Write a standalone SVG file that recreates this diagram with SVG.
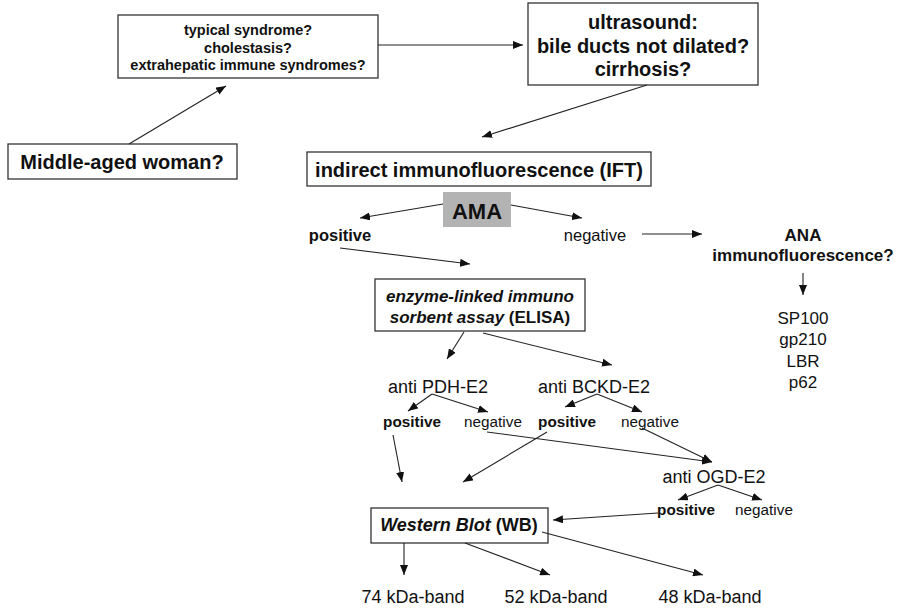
<svg xmlns="http://www.w3.org/2000/svg" width="900" height="610" viewBox="0 0 900 610">
<defs>
<marker id="ah" viewBox="0 0 10 8" refX="10" refY="4" markerWidth="10" markerHeight="8" markerUnits="userSpaceOnUse" orient="auto">
<path d="M0,0 L10,4 L0,8 Z" fill="#111"/>
</marker>
</defs>
<style>
text{font-family:"Liberation Sans",Arial,sans-serif;fill:#111;text-anchor:middle}
.b{font-weight:bold}
.box{fill:#fff;stroke:#333;stroke-width:1.3}
.c line{stroke:#222;stroke-width:1.1;marker-end:url(#ah)}
</style>
<rect width="900" height="610" fill="#fff"/>

<g id="n-typical">
<rect class="box" x="118" y="15" width="260" height="63"/>
<text class="b" x="248" y="35" font-size="14.5">typical syndrome?</text>
<text class="b" x="248" y="53" font-size="14.5">cholestasis?</text>
<text class="b" x="248" y="70" font-size="14.5">extrahepatic immune syndromes?</text>
</g>
<g id="n-woman">
<rect class="box" x="8" y="144" width="229" height="35"/>
<text class="b" x="122" y="169" font-size="20">Middle-aged woman?</text>
</g>
<g id="n-ultrasound">
<rect class="box" x="528" y="3" width="230" height="82"/>
<text class="b" x="643" y="29" font-size="20">ultrasound:</text>
<text class="b" x="643" y="53" font-size="20">bile ducts not dilated?</text>
<text class="b" x="643" y="76" font-size="20">cirrhosis?</text>
</g>
<g id="n-ift">
<rect class="box" x="307" y="152" width="344" height="34"/>
<text class="b" x="479" y="177" font-size="20">indirect immunofluorescence (IFT)</text>
</g>
<g id="n-ama">
<rect x="443" y="192" width="68" height="35" fill="#b3b3b3"/>
<text class="b" x="477" y="219" font-size="22">AMA</text>
</g>
<g id="n-pos1"><text class="b" x="340" y="241" font-size="16.5">positive</text></g>
<g id="n-neg1"><text x="595" y="241" font-size="16.5">negative</text></g>
<g id="n-ana">
<text class="b" x="803" y="241" font-size="17">ANA</text>
<text class="b" x="803" y="261" font-size="17">immunofluorescence?</text>
</g>
<g id="n-antigens">
<text x="803" y="324" font-size="17">SP100</text>
<text x="803" y="345" font-size="17">gp210</text>
<text x="803" y="367" font-size="17">LBR</text>
<text x="803" y="388" font-size="17">p62</text>
</g>
<g id="n-elisa">
<rect class="box" x="375" y="279" width="210" height="52"/>
<text class="b" x="480" y="302" font-size="17" font-style="italic">enzyme-linked immuno</text>
<text class="b" x="480" y="323" font-size="17"><tspan font-style="italic">sorbent assay</tspan> (ELISA)</text>
</g>
<g id="n-pdh"><text x="438" y="393" font-size="18">anti PDH-E2</text></g>
<g id="n-bckd"><text x="594" y="393" font-size="18">anti BCKD-E2</text></g>
<g id="n-pos2"><text class="b" x="412" y="427" font-size="15.3">positive</text></g>
<g id="n-neg2"><text x="493" y="427" font-size="15.3">negative</text></g>
<g id="n-pos3"><text class="b" x="567" y="427" font-size="15.3">positive</text></g>
<g id="n-neg3"><text x="650" y="427" font-size="15.3">negative</text></g>
<g id="n-ogd"><text x="714" y="483" font-size="18">anti OGD-E2</text></g>
<g id="n-pos4"><text class="b" x="686" y="515" font-size="15.3">positive</text></g>
<g id="n-neg4"><text x="764" y="515" font-size="15.3">negative</text></g>
<g id="n-wb">
<rect class="box" x="371" y="508" width="177" height="35"/>
<text class="b" x="459" y="531" font-size="18"><tspan font-style="italic">Western Blot</tspan> (WB)</text>
</g>
<g id="n-74"><text x="413" y="603" font-size="18">74 kDa-band</text></g>
<g id="n-52"><text x="556" y="603" font-size="18">52 kDa-band</text></g>
<g id="n-48"><text x="710" y="603" font-size="18">48 kDa-band</text></g>

<g id="connectors" class="c">
<line x1="129" y1="144" x2="226" y2="86"/>
<line x1="378" y1="45" x2="523" y2="45"/>
<line x1="647" y1="85" x2="482" y2="137"/>
<line x1="443" y1="204" x2="360" y2="218"/>
<line x1="511" y1="205" x2="582" y2="218"/>
<line x1="642" y1="234" x2="702" y2="234"/>
<line x1="340" y1="248" x2="470" y2="264"/>
<line x1="803" y1="273" x2="803" y2="295"/>
<line x1="464" y1="332" x2="447" y2="359"/>
<line x1="483" y1="333" x2="612" y2="365"/>
<line x1="432" y1="394" x2="408" y2="411"/>
<line x1="432" y1="394" x2="488" y2="412"/>
<line x1="597" y1="394" x2="565" y2="407"/>
<line x1="597" y1="394" x2="642" y2="412"/>
<line x1="393" y1="435" x2="402" y2="482"/>
<line x1="547" y1="432" x2="463" y2="482"/>
<line x1="487" y1="432" x2="712" y2="462"/>
<line x1="642" y1="428" x2="712" y2="462"/>
<line x1="718" y1="485" x2="678" y2="500"/>
<line x1="718" y1="485" x2="762" y2="500"/>
<line x1="658" y1="513" x2="553" y2="520"/>
<line x1="404" y1="543" x2="404" y2="575"/>
<line x1="465" y1="543" x2="550" y2="575"/>
<line x1="542" y1="532" x2="703" y2="575"/>
</g>
</svg>
